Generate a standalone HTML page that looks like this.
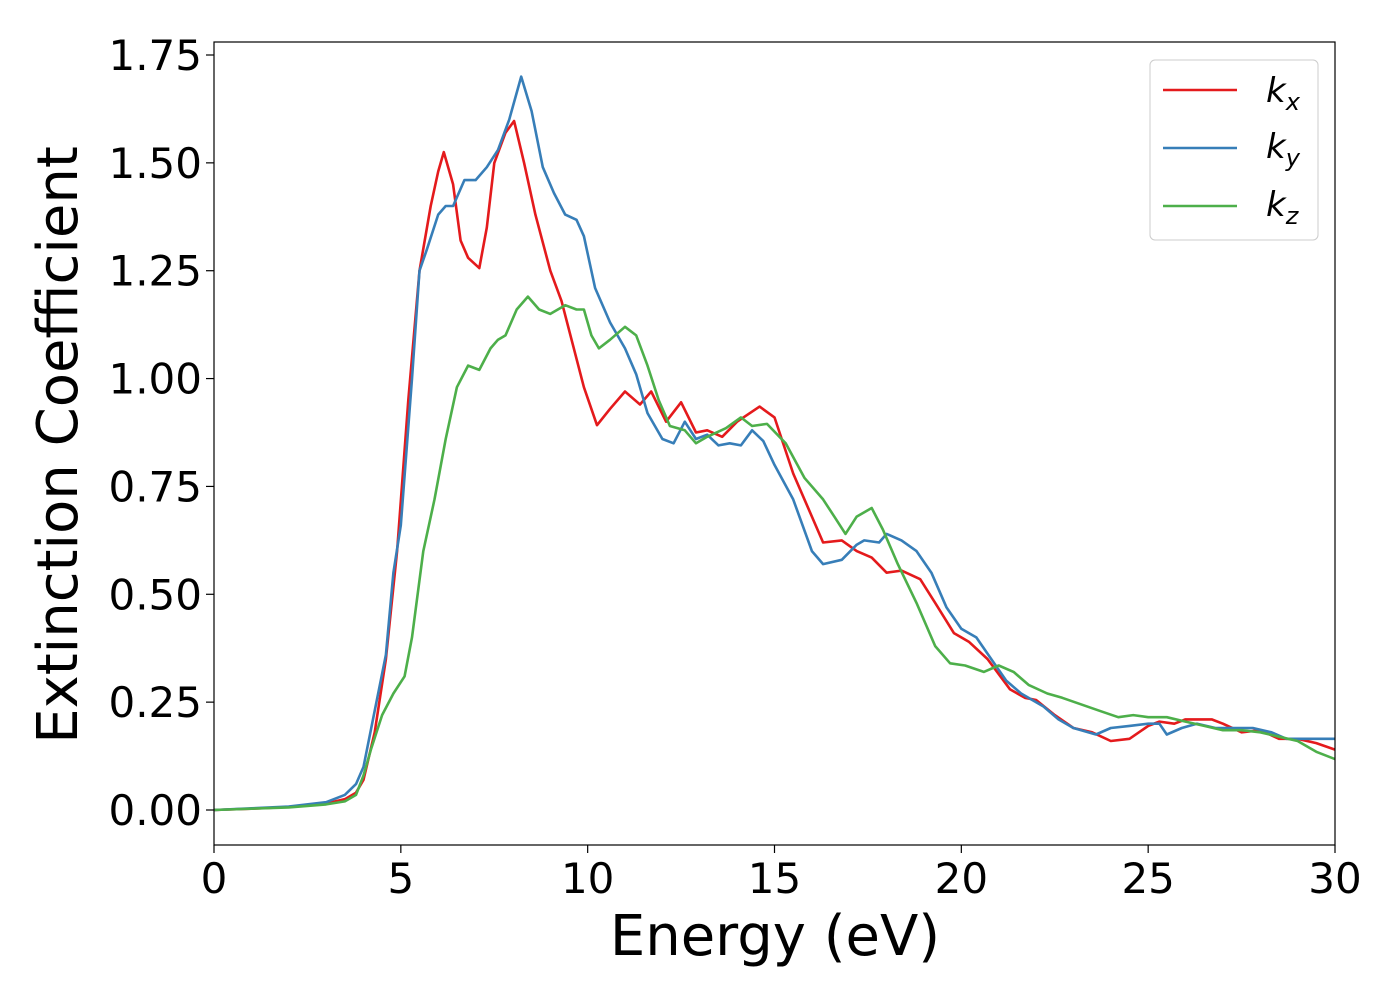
<!DOCTYPE html>
<html><head><meta charset="utf-8"><style>
body{margin:0;background:#fff}
svg{display:block;font-family:"DejaVu Sans","Liberation Sans",sans-serif}
</style></head><body>
<svg id="chart" width="1400" height="1000" viewBox="0 0 1400 1000"></svg>
<script>
const xTicks=[0,5,10,15,20,25,30];
const yTicks=[0,0.25,0.5,0.75,1.0,1.25,1.5,1.75];
const yTickLabels=["0.00","0.25","0.50","0.75","1.00","1.25","1.50","1.75"];
const kxE=[0,1,2,3,3.5,3.8,4.0,4.3,4.6,4.9,5.2,5.5,5.8,6.0,6.15,6.4,6.6,6.8,7.1,7.3,7.5,7.8,8.03,8.3,8.6,9.0,9.3,9.6,9.9,10.25,10.6,11.0,11.4,11.7,12.1,12.5,12.9,13.2,13.6,14.0,14.6,15.0,15.5,16.0,16.3,16.8,17.2,17.6,18.0,18.4,18.9,19.3,19.8,20.2,20.7,21.3,21.7,22.0,22.5,23.0,23.5,24.0,24.5,25.0,25.3,25.7,26.0,26.7,27.0,27.5,28.0,28.5,29.0,29.5,30];
const kxV=[0,0.003,0.007,0.015,0.025,0.04,0.07,0.18,0.35,0.6,0.95,1.25,1.4,1.48,1.525,1.45,1.32,1.28,1.256,1.35,1.5,1.57,1.597,1.5,1.38,1.25,1.18,1.08,0.98,0.892,0.93,0.97,0.94,0.97,0.9,0.945,0.875,0.88,0.865,0.9,0.935,0.91,0.78,0.68,0.62,0.625,0.6,0.585,0.55,0.555,0.535,0.48,0.41,0.39,0.35,0.28,0.26,0.255,0.22,0.19,0.18,0.16,0.165,0.195,0.205,0.2,0.21,0.21,0.2,0.18,0.185,0.165,0.165,0.155,0.14];
const kyE=[0,1,2,3,3.5,3.8,4.0,4.3,4.6,4.8,5.0,5.3,5.5,5.7,6.0,6.2,6.4,6.7,7.0,7.3,7.6,7.9,8.22,8.5,8.8,9.1,9.4,9.7,9.9,10.2,10.6,11.0,11.3,11.6,12.0,12.3,12.6,12.9,13.2,13.5,13.8,14.1,14.4,14.7,15.0,15.5,16.0,16.3,16.8,17.2,17.4,17.8,18.0,18.4,18.8,19.2,19.6,20.0,20.4,20.8,21.2,21.6,22.2,22.6,23.0,23.6,24.0,24.5,25.0,25.3,25.5,25.9,26.3,26.8,27.3,27.8,28.3,28.7,29.3,30];
const kyV=[0,0.004,0.008,0.018,0.035,0.06,0.1,0.23,0.36,0.55,0.66,1.0,1.25,1.3,1.38,1.4,1.4,1.46,1.46,1.49,1.53,1.6,1.70,1.62,1.49,1.43,1.38,1.368,1.33,1.21,1.13,1.07,1.01,0.92,0.86,0.85,0.9,0.86,0.87,0.845,0.85,0.845,0.88,0.855,0.8,0.72,0.6,0.57,0.58,0.615,0.625,0.62,0.64,0.625,0.6,0.55,0.47,0.42,0.4,0.35,0.3,0.27,0.24,0.21,0.19,0.175,0.19,0.195,0.2,0.2,0.175,0.19,0.2,0.19,0.19,0.19,0.18,0.165,0.165,0.165];
const kzE=[0,1,2,3,3.5,3.8,4.0,4.2,4.5,4.8,5.1,5.3,5.6,5.9,6.2,6.5,6.8,7.1,7.4,7.6,7.8,8.1,8.4,8.7,9.0,9.4,9.7,9.9,10.1,10.3,10.6,11.0,11.3,11.6,11.9,12.2,12.6,12.9,13.2,13.7,14.1,14.4,14.8,15.3,15.8,16.3,16.6,16.9,17.2,17.6,17.9,18.3,18.8,19.3,19.7,20.1,20.6,21.0,21.4,21.8,22.3,22.7,23.2,23.7,24.2,24.6,25.0,25.5,26.0,26.5,27.0,27.5,28.0,28.5,29.0,29.5,30];
const kzV=[0,0.003,0.006,0.013,0.02,0.035,0.08,0.14,0.22,0.27,0.31,0.4,0.6,0.72,0.86,0.98,1.03,1.02,1.07,1.09,1.1,1.16,1.19,1.16,1.15,1.17,1.16,1.16,1.1,1.07,1.09,1.12,1.1,1.03,0.95,0.89,0.88,0.85,0.865,0.885,0.91,0.89,0.895,0.85,0.77,0.72,0.68,0.64,0.68,0.7,0.65,0.57,0.48,0.38,0.34,0.335,0.32,0.335,0.32,0.29,0.27,0.26,0.245,0.23,0.215,0.22,0.215,0.215,0.205,0.195,0.185,0.185,0.18,0.17,0.16,0.135,0.118];

const NS="http://www.w3.org/2000/svg";
const svg=document.getElementById('chart');
const L=214,R=1335,T=42,B=845,Y0=810,Y175=55;
const xs=e=>L+(R-L)*e/30;
const ys=v=>Y0-(Y0-Y175)*v/1.75;
function mk(tag,at,parent){const el=document.createElementNS(NS,tag);for(const k in at)el.setAttribute(k,at[k]);(parent||svg).appendChild(el);return el;}

const clip=mk('clipPath',{id:'pc'});mk('rect',{x:L,y:T,width:R-L,height:B-T},clip);

function series(E,V,color,name){
  let d='';E.forEach((e,i)=>{d+=(i?'L':'M')+xs(e).toFixed(1)+','+ys(V[i]).toFixed(1);});
  const p=mk('path',{d:d,fill:'none',stroke:color,'stroke-width':2.6,'stroke-linejoin':'round','clip-path':'url(#pc)'});
  
  
}
series(kxE,kxV,'#e41a1c','series-kx');
series(kyE,kyV,'#377eb8','series-ky');
series(kzE,kzV,'#4daf4a','series-kz');

const frame=mk('rect',{x:L,y:T,width:R-L,height:B-T,fill:'none',stroke:'#000','stroke-width':1.2});



xTicks.forEach(t=>{
  const x=xs(t);
  const tk=mk('line',{x1:x,x2:x,y1:B,y2:B+8,stroke:'#000','stroke-width':1.2});
  
  
  const tx=mk('text',{x:x,y:893,'font-size':42,'text-anchor':'middle'});
  tx.textContent=t;
  
  
});
yTicks.forEach((t,i)=>{
  const y=ys(t);
  const tk=mk('line',{x1:L-8,x2:L,y1:y,y2:y,stroke:'#000','stroke-width':1.2});
  
  
  const tx=mk('text',{x:202,y:y+15,'font-size':42,'text-anchor':'end'});
  tx.textContent=yTickLabels[i];
  
  
});
</script>
<svg style="position:absolute;left:0;top:0" width="1400" height="1000">
  <text x="775" y="955" font-size="56" text-anchor="middle" font-family="DejaVu Sans,Liberation Sans,sans-serif">Energy (eV)</text>
  <text transform="translate(77,445) rotate(-90)" font-size="56" text-anchor="middle" font-family="DejaVu Sans,Liberation Sans,sans-serif">Extinction Coefficient</text>
  <g font-family="DejaVu Sans,Liberation Sans,sans-serif">
    <rect x="1150" y="60" width="168" height="180" rx="5" fill="#fff" fill-opacity="0.8" stroke="#ccc"/>
    <line x1="1163" x2="1237" y1="90" y2="90" stroke="#e41a1c" stroke-width="2.6"/>
    <text x="1266" y="102" font-size="34" font-style="italic">k<tspan font-size="24" dy="8">x</tspan></text>
    <line x1="1163" x2="1237" y1="148" y2="148" stroke="#377eb8" stroke-width="2.6"/>
    <text x="1266" y="158" font-size="34" font-style="italic">k<tspan font-size="24" dy="8">y</tspan></text>
    <line x1="1163" x2="1237" y1="206" y2="206" stroke="#4daf4a" stroke-width="2.6"/>
    <text x="1266" y="216" font-size="34" font-style="italic">k<tspan font-size="24" dy="8">z</tspan></text>
  </g>
</svg>
</body></html>
